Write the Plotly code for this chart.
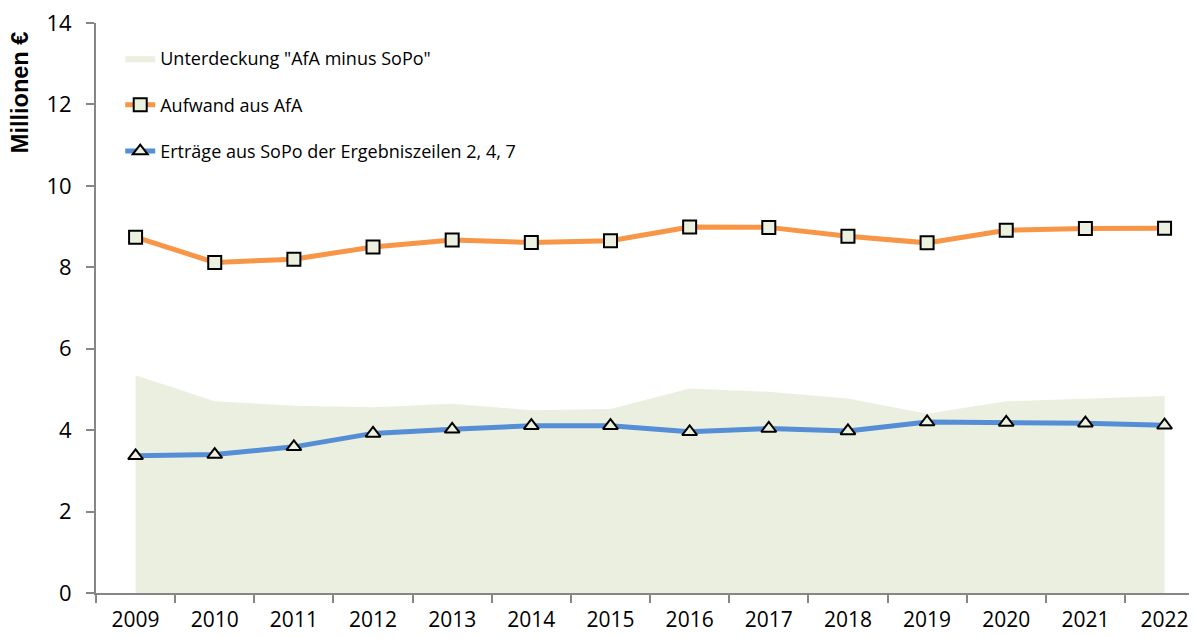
import plotly.graph_objects as go

years = ["2009", "2010", "2011", "2012", "2013", "2014", "2015",
         "2016", "2017", "2018", "2019", "2020", "2021", "2022"]
afa = [8.74, 8.12, 8.20, 8.50, 8.67, 8.61, 8.65, 8.99, 8.98, 8.76, 8.60, 8.91, 8.95, 8.96]
sopo = [3.37, 3.40, 3.59, 3.92, 4.02, 4.11, 4.11, 3.96, 4.04, 3.98, 4.20, 4.19, 4.17, 4.12]
gap = [5.35, 4.71, 4.60, 4.56, 4.65, 4.49, 4.52, 5.02, 4.94, 4.78, 4.40, 4.71, 4.77, 4.84]
ytick_vals = [0, 2, 4, 6, 8, 10, 12, 14]

FONT = "Open Sans, sans-serif"
AX = "#868686"

fig = go.Figure()
fig.add_trace(go.Scatter(
    x=years, y=gap, name='Unterdeckung "AfA minus SoPo"', mode="lines",
    line=dict(width=0, color="#EBEFDF"), fill="tozeroy", fillcolor="#EBEFDF",
    legendgroup="a"))
fig.add_trace(go.Scatter(
    x=years, y=afa, name="Aufwand aus AfA", mode="lines+markers",
    line=dict(width=5, color="#F79646"),
    marker=dict(symbol="square", size=13, color="#EBF1DE",
                line=dict(width=2, color="black")),
    legendgroup="b"))
fig.add_trace(go.Scatter(
    x=years, y=sopo, name="Erträge aus SoPo der Ergebniszeilen 2, 4, 7",
    mode="lines+markers",
    line=dict(width=5, color="#558ED5"),
    marker=dict(symbol="triangle-up", size=13, color="#EBF1DE",
                line=dict(width=2, color="black")),
    legendgroup="c"))

# page body adds an 8px offset; compensate in size and margins
fig.update_layout(
    width=1189, height=629,
    margin=dict(l=88, r=0, t=15, b=44),
    paper_bgcolor="white", plot_bgcolor="white",
    font=dict(family=FONT, size=22, color="black"),
    showlegend=True,
    legend=dict(x=0.022, y=0.97, xanchor="left", yanchor="top",
                bgcolor="rgba(0,0,0,0)", traceorder="grouped",
                tracegroupgap=20, font=dict(size=18, family=FONT)),
    xaxis=dict(type="category", range=[-0.5, 13.41], tickson="boundaries",
               automargin=False,
               showline=True, linecolor=AX, linewidth=2,
               ticks="outside", ticklen=8, tickcolor=AX, tickwidth=2,
               ticklabelstandoff=7,
               showgrid=False, zeroline=False,
               tickfont=dict(size=21, family=FONT)),
    yaxis=dict(range=[0, 14], tickmode="array", tickvals=ytick_vals,
               ticktext=[str(v) for v in ytick_vals],
               ticklabeloverflow="allow", automargin=False,
               showline=True, linecolor=AX, linewidth=2,
               ticks="outside", ticklen=8, tickcolor=AX, tickwidth=2,
               ticklabelstandoff=10,
               showgrid=False, zeroline=False,
               tickfont=dict(size=22, family=FONT)),
    annotations=[dict(
        text="<b>Millionen €</b>", textangle=-90,
        xref="paper", yref="paper", x=-0.069, y=0.877,
        xanchor="center", yanchor="middle", showarrow=False,
        font=dict(size=23.5, family="Liberation Sans, Arial, sans-serif", color="black"))],
)

fig.write_html("out.html")
